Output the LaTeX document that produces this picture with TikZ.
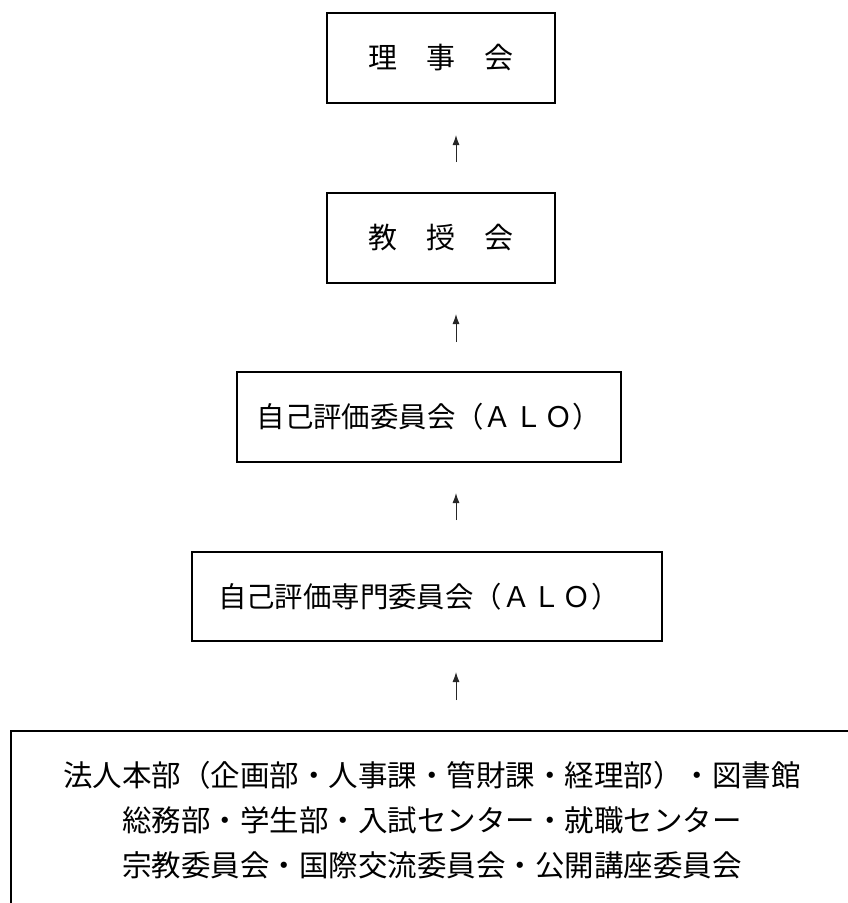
\documentclass[tikz,border=0pt]{standalone}
\usepackage{fontspec}
\setmainfont{Noto Sans CJK JP}
\usetikzlibrary{arrows.meta}
\tikzset{
  box/.style={draw=black, line width=1.8pt, inner sep=0pt, font=\fontsize{29}{45}\selectfont},
  boxtext/.style={inner sep=0pt, align=center, font=\fontsize{29.5}{45}\selectfont},
  arr/.style={draw=black!85, line width=1pt, -{Latex[length=10pt,width=7pt]}}
}
\begin{document}
\begin{tikzpicture}[x=1pt,y=-1pt]
\useasboundingbox (0,0) rectangle (848,903);
\clip (0,0) rectangle (848,903);
\fill[white] (0,0) rectangle (848,903);
% boxes
\node[box, minimum width=228, minimum height=90] (b1) at (441,58) {理　事　会};
\node[box, minimum width=228, minimum height=90] (b2) at (441,238) {教　授　会};
\node[box, minimum width=384, minimum height=90, font=\fontsize{28.4}{45}\selectfont] (b3) at (429,417) {自己評価委員会（Ａ\kern2ptＬ\kern2ptＯ）};
\node[box, minimum width=470, minimum height=89, text width=418, inner xsep=26, align=left, font=\fontsize{28.4}{45}\selectfont] (b4) at (427,596.5) {自己評価専門委員会（Ａ\kern2ptＬ\kern2ptＯ）};
\node[box, line width=2pt, minimum width=859, minimum height=200] (b5) at (440.5,831) {};
\node[boxtext] (t5) at (432,820) {法人本部（企画部・人事課・管財課・経理部）・図書館\\総務部・学生部・入試センター・就職センター\\宗教委員会・国際交流委員会・公開講座委員会};
% arrow ends
\coordinate (a1s) at (456,162); \coordinate (a1e) at (456,135);
\coordinate (a2s) at (456,342); \coordinate (a2e) at (456,314);
\coordinate (a3s) at (456,520); \coordinate (a3e) at (456,493);
\coordinate (a4s) at (456,700); \coordinate (a4e) at (456,672);
\draw[arr] (a1s) -- (a1e);
\draw[arr] (a2s) -- (a2e);
\draw[arr] (a3s) -- (a3e);
\draw[arr] (a4s) -- (a4e);
\end{tikzpicture}
\end{document}
